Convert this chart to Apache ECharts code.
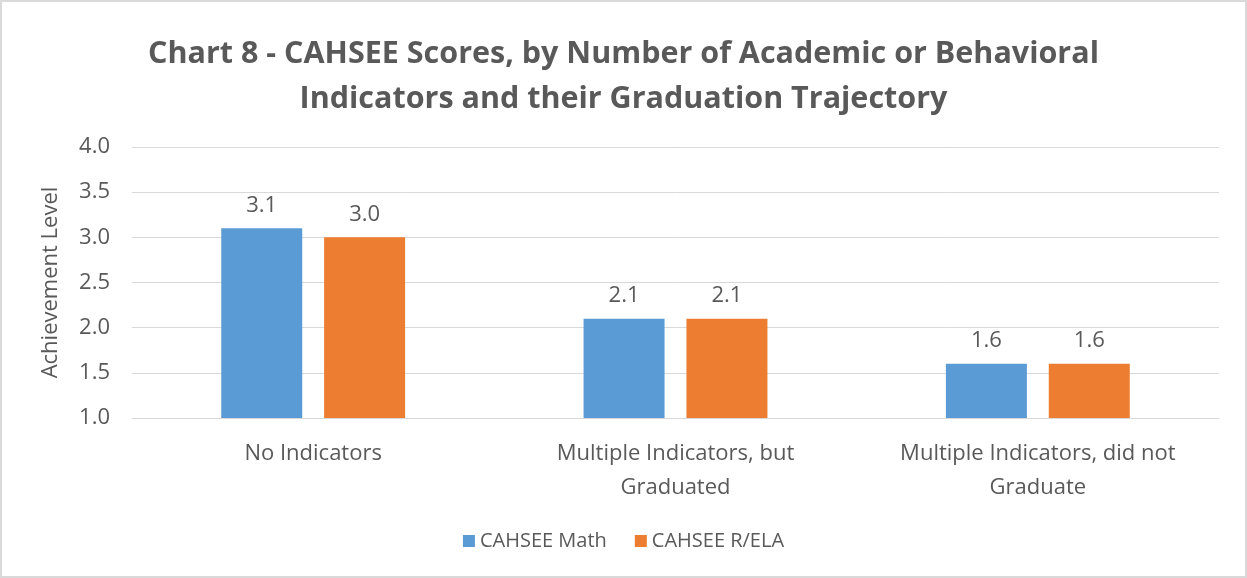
<!DOCTYPE html>
<html>
<head>
<meta charset="utf-8">
<script src="https://cdn.jsdelivr.net/npm/echarts@6/dist/echarts.min.js"></script>
<style>
  html, body { margin: 0; padding: 0; background: #fff; }
  #chart { width: 1247px; height: 578px; box-sizing: border-box; border: 2px solid #d9d9d9; }
</style>
</head>
<body>
<div id="chart"></div>
<script>
const categories = ['No Indicators', 'Multiple Indicators, but\nGraduated', 'Multiple Indicators, did not\nGraduate'];
const mathScores = [3.1, 2.1, 1.6];
const relaScores = [3.0, 2.1, 1.6];
const seriesNames = ['CAHSEE Math', 'CAHSEE R/ELA'];

const chart = echarts.init(document.getElementById('chart'));
const font = 'Open Sans';
const textColor = '#595959';

const labelOpt = {
  show: true,
  position: 'top',
  distance: 12,
  color: textColor,
  fontFamily: font,
  fontSize: 22,
  formatter: p => p.value.toFixed(1)
};

chart.setOption({
  animation: false,
  title: {
    text: 'Chart 8 - CAHSEE Scores, by Number of Academic or Behavioral\nIndicators and their Graduation Trajectory',
    left: 'center',
    top: 25,
    textStyle: {
      fontFamily: font,
      fontSize: 30.5,
      fontWeight: 'bold',
      color: textColor,
      lineHeight: 45
    }
  },
  legend: {
    bottom: 20,
    left: 'center',
    itemWidth: 12,
    itemHeight: 12,
    itemGap: 28,
    icon: 'rect',
    textStyle: { fontFamily: font, fontSize: 20, color: textColor }
  },
  grid: { left: 130, right: 26, top: 145, bottom: 158 },
  xAxis: {
    type: 'category',
    data: categories,
    axisLine: { lineStyle: { color: '#d9d9d9' } },
    axisTick: { show: false },
    axisLabel: {
      fontFamily: font,
      fontSize: 22,
      color: textColor,
      margin: 19,
      lineHeight: 34
    }
  },
  yAxis: {
    type: 'value',
    min: 1,
    max: 4,
    interval: 0.5,
    name: 'Achievement Level',
    nameLocation: 'middle',
    nameGap: 70,
    nameTextStyle: { fontFamily: font, fontSize: 22, color: textColor },
    axisLine: { show: false },
    axisTick: { show: false },
    axisLabel: {
      fontFamily: font,
      fontSize: 22,
      color: textColor,
      margin: 22,
      formatter: v => v.toFixed(1)
    },
    splitLine: { lineStyle: { color: '#d9d9d9' } }
  },
  series: [
    {
      name: seriesNames[0],
      type: 'bar',
      data: mathScores,
      itemStyle: { color: '#5B9BD5' },
      barWidth: 81,
      barGap: '27%',
      label: labelOpt
    },
    {
      name: seriesNames[1],
      type: 'bar',
      data: relaScores,
      itemStyle: { color: '#ED7D31' },
      barWidth: 81,
      label: labelOpt
    }
  ]
});
</script>
</body>
</html>
